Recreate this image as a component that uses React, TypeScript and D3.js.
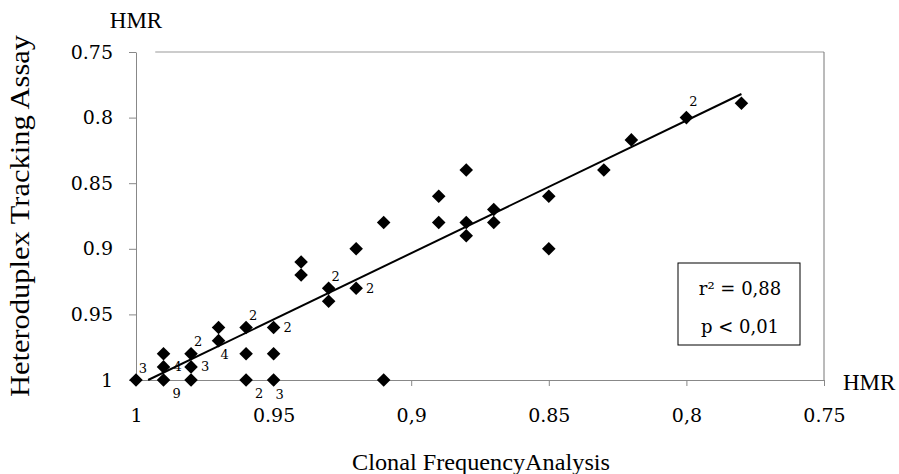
import React, { useRef, useEffect } from 'react';
import * as d3 from 'd3';

// axis ticks (both axes run from 1 down to 0.75)
const xTicks = [1, 0.95, 0.9, 0.85, 0.8, 0.75];
const xTickLabels = ['1', '0.95', '0,9', '0.85', '0,8', '0.75'];
const yTicks = [0.75, 0.8, 0.85, 0.9, 0.95, 1];
const yTickLabels = ['0.75', '0.8', '0.85', '0.9', '0.95', '1'];

// HMR by clonal frequency analysis (x) and heteroduplex tracking assay (y)
const cfaValues = [
  1,
  0.99, 0.99, 0.99,
  0.98, 0.98, 0.98,
  0.97, 0.97,
  0.96, 0.96, 0.96,
  0.95, 0.95, 0.95,
  0.94, 0.94,
  0.93, 0.93,
  0.92, 0.92,
  0.91, 0.91,
  0.89, 0.89,
  0.88, 0.88, 0.88,
  0.87, 0.87,
  0.85, 0.85,
  0.83,
  0.82,
  0.8,
  0.78,
];
const htaValues = [
  1,
  0.98, 0.99, 1,
  0.98, 0.99, 1,
  0.96, 0.97,
  0.96, 0.98, 1,
  0.96, 0.98, 1,
  0.91, 0.92,
  0.93, 0.94,
  0.9, 0.93,
  0.88, 1,
  0.86, 0.88,
  0.84, 0.88, 0.89,
  0.87, 0.88,
  0.86, 0.9,
  0.84,
  0.817,
  0.8,
  0.789,
];

// number of overlapping samples at a point, and where the number sits
const overlapCounts = [
  { x: 1, y: 1, n: '3', at: 'ne' },
  { x: 0.99, y: 0.99, n: '4', at: 'e' },
  { x: 0.99, y: 1, n: '9', at: 'se' },
  { x: 0.98, y: 0.98, n: '2', at: 'ne' },
  { x: 0.98, y: 0.99, n: '3', at: 'e' },
  { x: 0.97, y: 0.97, n: '4', at: 's' },
  { x: 0.96, y: 0.96, n: '2', at: 'ne' },
  { x: 0.96, y: 1, n: '2', at: 'se' },
  { x: 0.95, y: 0.96, n: '2', at: 'e' },
  { x: 0.95, y: 1, n: '3', at: 's' },
  { x: 0.93, y: 0.93, n: '2', at: 'ne' },
  { x: 0.92, y: 0.93, n: '2', at: 'e' },
  { x: 0.8, y: 0.8, n: '2', at: 'n' },
];

// regression line ends
const fitLine: [number, number][] = [[0.9956, 1], [0.78, 0.782]];
const statsText = ['r² = 0,88', 'p < 0,01'];

const W = 899;
const H = 474;
// Liberation Serif has no serif digits here, so numbers use DejaVu Serif
const font = '"Liberation Serif", serif';
const numFont = '"DejaVu Serif", serif';
const offsets: Record<string, [number, number]> = {
  ne: [7, -12],
  e: [14, 0],
  se: [13, 13],
  s: [6, 14],
  n: [7, -16],
};

const App = () => {
  const xAxisRef = useRef<SVGGElement>(null);
  const yAxisRef = useRef<SVGGElement>(null);

  const x = d3.scaleLinear().domain([1, 0.75]).range([136, 824]);
  const y = d3.scaleLinear().domain([0.75, 1]).range([52, 380]);

  useEffect(() => {
    const xa = d3.select(xAxisRef.current);
    xa.selectAll('*').remove();
    xa.call(
      d3.axisBottom(x)
        .tickValues(xTicks)
        .tickFormat((d, i) => xTickLabels[i])
        .tickSize(6)
        .tickSizeOuter(0)
        .tickPadding(23)
    );
    xa.attr('font-family', numFont).attr('font-size', 19);
    xa.select('.domain').attr('stroke', '#888');
    xa.selectAll('.tick line').attr('stroke', '#888');
    xa.selectAll('.tick text').attr('fill', '#000');

    const ya = d3.select(yAxisRef.current);
    ya.selectAll('*').remove();
    ya.call(
      d3.axisLeft(y)
        .tickValues(yTicks)
        .tickFormat((d, i) => yTickLabels[i])
        .tickSize(7)
        .tickSizeOuter(0)
        .tickPadding(16)
    );
    ya.attr('font-family', numFont).attr('font-size', 19);
    ya.select('.domain').attr('stroke', '#888');
    ya.selectAll('.tick line').attr('stroke', '#888');
    ya.selectAll('.tick text').attr('fill', '#000');
  }, []);

  const diamond = d3.symbol().type(d3.symbolSquare).size(92)();
  const line = d3.line<[number, number]>()
    .x(d => x(d[0]))
    .y(d => y(d[1]));

  return (
    <svg width={W} height={H} style={{ position: 'absolute', left: 0, top: 0, background: '#fff' }}>
      {/* plot frame */}
      <line x1={x(0.993)} x2={x(0.75)} y1={y(0.75)} y2={y(0.75)} stroke="#999" />
      <line x1={x(0.75)} x2={x(0.75)} y1={y(0.75)} y2={y(1)} stroke="#777" />

      <g ref={xAxisRef} transform={`translate(0,${y(1)})`} />
      <g ref={yAxisRef} transform={`translate(${x(1)},0)`} />

      <path d={line(fitLine) || ''} stroke="#000" strokeWidth={2} fill="none" />

      {cfaValues.map((v, i) => (
        <path
          key={i}
          d={diamond || ''}
          transform={`translate(${x(v)},${y(htaValues[i])}) rotate(45)`}
          fill="#000"
        />
      ))}

      {overlapCounts.map((c, i) => (
        <text
          key={i}
          x={x(c.x) + offsets[c.at][0]}
          y={y(c.y) + offsets[c.at][1]}
          fontFamily={numFont}
          fontSize={13}
          textAnchor="middle"
          dominantBaseline="central"
        >
          {c.n}
        </text>
      ))}

      {/* stats box */}
      <rect x={678} y={263} width={122} height={82} fill="#fff" stroke="#000" />
      {statsText.map((t, i) => (
        <text
          key={t}
          x={740}
          y={288 + i * 38}
          fontFamily={numFont}
          fontSize={18}
          textAnchor="middle"
          dominantBaseline="central"
        >
          {t}
        </text>
      ))}

      <text x={x(1)} y={20} fontFamily={font} fontSize={23} textAnchor="middle" dominantBaseline="central">HMR</text>
      <text x={843} y={382} fontFamily={font} fontSize={23} dominantBaseline="central">HMR</text>

      <text
        transform={`translate(20,${(y(0.75) + y(1)) / 2}) rotate(-90)`}
        fontFamily={font}
        fontSize={27}
        textAnchor="middle"
        dominantBaseline="central"
        textLength={362}
        lengthAdjust="spacingAndGlyphs"
      >
        Heteroduplex Tracking Assay
      </text>
      <text
        x={481}
        y={462}
        fontFamily={font}
        fontSize={24}
        textAnchor="middle"
        dominantBaseline="central"
        textLength={258}
        lengthAdjust="spacingAndGlyphs"
      >
        Clonal FrequencyAnalysis
      </text>
    </svg>
  );
};

export default App;
